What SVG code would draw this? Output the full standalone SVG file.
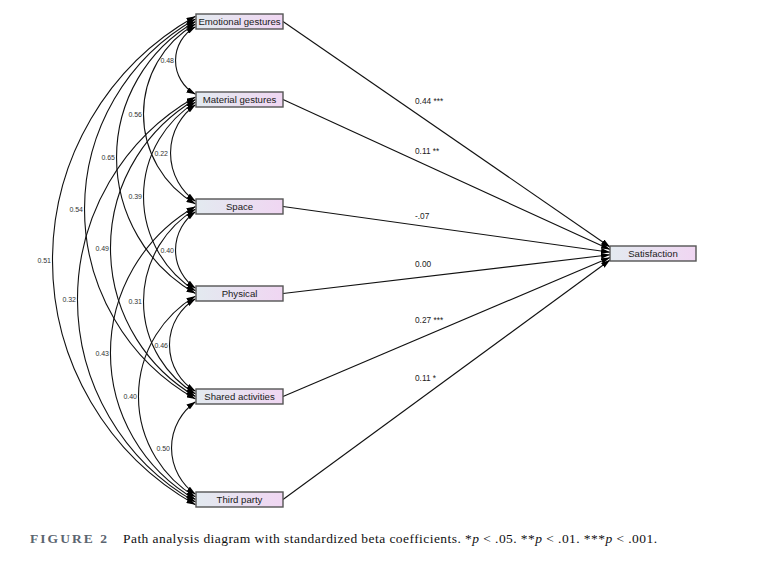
<svg xmlns="http://www.w3.org/2000/svg" width="757" height="568" viewBox="0 0 757 568">
<style>
.box{fill:url(#bg);stroke:#555;stroke-width:1.4}
.nt{font-family:"Liberation Sans",Arial,sans-serif;font-size:9.6px;fill:#1a1a1a;text-anchor:middle}
.arc{fill:none;stroke:#111;stroke-width:1.1;marker-start:url(#ah);marker-end:url(#ah)}
.reg{fill:none;stroke:#111;stroke-width:1.1;marker-end:url(#ah)}
.al{font-family:"Liberation Sans",Arial,sans-serif;font-size:7px;fill:#333;text-anchor:end}
.rl{font-family:"Liberation Sans",Arial,sans-serif;font-size:8.3px;fill:#222}
</style>
<defs>
<linearGradient id="bg" x1="0" y1="0" x2="1" y2="0">
<stop offset="0" stop-color="#e3eaf0"/>
<stop offset="1" stop-color="#f0d6f2"/>
</linearGradient>
<marker id="ah" markerUnits="userSpaceOnUse" markerWidth="9" markerHeight="6" viewBox="0 0 9 6" refX="9" refY="3" orient="auto-start-reverse">
<path d="M0,0 L9,3 L0,6 z" fill="#000"/>
</marker>
</defs>
<rect width="757" height="568" fill="#fff"/>
<g id="connectors">
<path class="arc" d="M195.5,26.7 A38.6,38.6 0 0 0 195.5,94.3"/>
<path class="arc" d="M195.5,24.1 A103.7,103.7 0 0 0 195.5,203.9"/>
<path class="arc" d="M195.5,21.5 A156.6,156.6 0 0 0 195.5,293.5"/>
<path class="arc" d="M195.5,18.9 A218.3,218.3 0 0 0 195.5,399.1"/>
<path class="arc" d="M195.5,16.3 A280,280 0 0 0 195.5,504.7"/>
<path class="arc" d="M195.5,104.7 A59.2,59.2 0 0 0 195.5,201.3"/>
<path class="arc" d="M195.5,102.1 A111.7,111.7 0 0 0 195.5,290.9"/>
<path class="arc" d="M195.5,99.5 A172.2,172.2 0 0 0 195.5,396.5"/>
<path class="arc" d="M195.5,96.9 A232.9,232.9 0 0 0 195.5,502.1"/>
<path class="arc" d="M195.5,211.7 A46.7,46.7 0 0 0 195.5,288.3"/>
<path class="arc" d="M195.5,209.1 A108.1,108.1 0 0 0 195.5,393.9"/>
<path class="arc" d="M195.5,206.5 A168.7,168.7 0 0 0 195.5,499.5"/>
<path class="arc" d="M195.5,298.7 A54.2,54.2 0 0 0 195.5,391.3"/>
<path class="arc" d="M195.5,296.1 A116.9,116.9 0 0 0 195.5,496.9"/>
<path class="arc" d="M195.5,401.7 A56.7,56.7 0 0 0 195.5,494.3"/>
<path class="reg" d="M283,21.5 L610,247"/>
<path class="reg" d="M283,99.5 L610,249.6"/>
<path class="reg" d="M283,206.5 L610,252.2"/>
<path class="reg" d="M283,293.5 L610,254.8"/>
<path class="reg" d="M283,396.5 L610,257.4"/>
<path class="reg" d="M283,499.5 L610,260"/>
<text class="al" x="174" y="63">0.48</text>
<text class="al" x="142" y="116.5">0.56</text>
<text class="al" x="115" y="160">0.65</text>
<text class="al" x="83" y="211.5">0.54</text>
<text class="al" x="51" y="263">0.51</text>
<text class="al" x="168" y="155.5">0.22</text>
<text class="al" x="142" y="199">0.39</text>
<text class="al" x="109" y="250.5">0.49</text>
<text class="al" x="76" y="302">0.32</text>
<text class="al" x="174" y="252.5">0.40</text>
<text class="al" x="142" y="304">0.31</text>
<text class="al" x="109" y="355.5">0.43</text>
<text class="al" x="168" y="347.5">0.46</text>
<text class="al" x="137" y="399">0.40</text>
<text class="al" x="170" y="450.5">0.50</text>
<text class="rl" x="415" y="104">0.44 ***</text>
<text class="rl" x="415" y="154">0.11 **</text>
<text class="rl" x="415" y="219">-.07</text>
<text class="rl" x="415" y="267">0.00</text>
<text class="rl" x="415" y="323">0.27 ***</text>
<text class="rl" x="415" y="381">0.11 *</text>
</g>
<g id="emotional"><rect class="box" x="196" y="14" width="87" height="15"/><text class="nt" x="239.5" y="25">Emotional gestures</text></g>
<g id="material"><rect class="box" x="196" y="92" width="87" height="15"/><text class="nt" x="239.5" y="103">Material gestures</text></g>
<g id="space"><rect class="box" x="196" y="199" width="87" height="15"/><text class="nt" x="239.5" y="210">Space</text></g>
<g id="physical"><rect class="box" x="196" y="286" width="87" height="15"/><text class="nt" x="239.5" y="297">Physical</text></g>
<g id="shared"><rect class="box" x="196" y="389" width="87" height="15"/><text class="nt" x="239.5" y="400">Shared activities</text></g>
<g id="third"><rect class="box" x="196" y="492" width="87" height="15"/><text class="nt" x="239.5" y="503">Third party</text></g>
<g id="satisfaction"><rect class="box" x="610" y="246" width="86" height="15"/><text class="nt" x="653" y="257">Satisfaction</text></g>
<g id="caption">
<text x="30" y="543" font-family="'Liberation Serif','Times New Roman',serif" font-size="13.5" font-weight="bold" fill="#5b6570" textLength="77" lengthAdjust="spacing">FIGURE 2</text>
<text x="123" y="543" font-family="'Liberation Serif','Times New Roman',serif" font-size="13.5" fill="#111" textLength="534" lengthAdjust="spacing">Path analysis diagram with standardized beta coefficients. *<tspan font-style="italic">p</tspan> &lt; .05. **<tspan font-style="italic">p</tspan> &lt; .01. ***<tspan font-style="italic">p</tspan> &lt; .001.</text>
</g>
</svg>
